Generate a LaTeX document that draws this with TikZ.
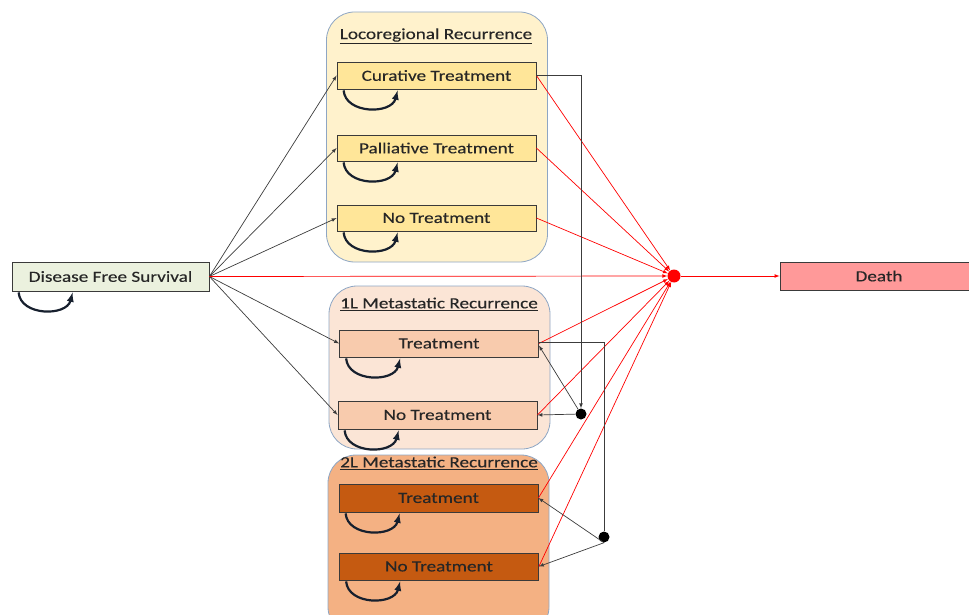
\documentclass[tikz,border=0pt]{standalone}
\usepackage{fontspec}
\setmainfont{Carlito}
\newfontfamily\boxfont{Carlito}[FakeBold=0.15]
\newcommand{\wtext}[1]{\scalebox{1.24}[1]{#1}}
\definecolor{txt}{HTML}{262626}
\definecolor{boxline}{HTML}{3A3A3A}
\definecolor{grpline}{HTML}{8EA6C4}
\definecolor{dfsfill}{HTML}{EBF1DE}
\definecolor{lrgrp}{HTML}{FFF2CC}
\definecolor{lrbox}{HTML}{FFE699}
\definecolor{mfgrp}{HTML}{FBE5D6}
\definecolor{mfbox}{HTML}{F8CBAD}
\definecolor{msgrp}{HTML}{F4B183}
\definecolor{msbox}{HTML}{C55A11}
\definecolor{deathfill}{HTML}{FF9999}
\definecolor{loopc}{HTML}{17202E}
\definecolor{blk}{HTML}{3C3C3C}
\tikzset{
 state/.style={draw=boxline, line width=0.8pt, minimum width=199pt, minimum height=27pt, inner sep=0pt, text=txt, font=\boxfont\fontsize{15.5}{18}\selectfont},
 group/.style={draw=grpline, line width=0.8pt, rounded corners=28pt, minimum width=221pt},
 grptitle/.style={text=txt, inner sep=0pt, font=\boxfont\fontsize{15.5}{18}\selectfont},
 flow/.style={->, draw=blk, line width=0.7pt},
 dflow/.style={->, draw=red, line width=0.7pt},
 selfloop/.style={->, draw=loopc, line width=2.2pt},
 junction/.style={circle, fill=black, inner sep=0pt, minimum size=11pt},
}
\begin{document}
\begin{tikzpicture}[>=latex, x=1pt, y=-1pt]
 \useasboundingbox (0,0) rectangle (969,615);
 \node[group, fill=lrgrp, minimum height=250pt] (lrgroup) at (437,137) {};
 \node[group, fill=mfgrp, minimum height=163pt] (mfgroup) at (439.5,367.5) {};
 \node[group, fill=msgrp, minimum height=180pt] (msgroup) at (438.5,545) {};
 \node[grptitle] (lrtitle) at (436,36) {\wtext{\underline{Locoregional Recurrence}}};
 \node[grptitle] (mftitle) at (439,304) {\wtext{\underline{1L Metastatic Recurrence}}};
 \node[grptitle] (mstitle) at (439,463) {\wtext{\underline{2L Metastatic Recurrence}}};
 \node[state, fill=dfsfill, minimum width=197pt, minimum height=29pt] (dfs) at (110.5,276.5) {\wtext{Disease Free Survival}};
 \node[state, fill=lrbox] (cur) at (436.5,75.5) {\wtext{Curative Treatment}};
 \node[state, fill=lrbox, minimum height=26pt] (pal) at (436.5,148) {\wtext{Palliative Treatment}};
 \node[state, fill=lrbox, minimum height=26pt] (lrnone) at (436.5,218) {\wtext{No Treatment}};
 \node[state, fill=mfbox] (mftreat) at (439,343.5) {\wtext{Treatment}};
 \node[state, fill=mfbox, minimum height=28pt] (mfnone) at (437.5,415) {\wtext{No Treatment}};
 \node[state, fill=msbox, minimum height=28pt] (mstreat) at (438.5,498) {\wtext{Treatment}};
 \node[state, fill=msbox] (msnone) at (439,566.5) {\wtext{No Treatment}};
 \node[state, fill=deathfill, minimum width=220pt, minimum height=28pt] (death) at (890,276) {\hspace*{-22pt}\wtext{Death}};
 \node[circle, fill=red, inner sep=0pt, minimum size=13pt] (rdot) at (674,276) {};
 \node[junction] (jmf) at (581,414) {};
 \node[junction] (jms) at (604,537) {};
 \foreach \s in {dfs,cur,pal,lrnone,mftreat,mfnone,mstreat,msnone}
  \draw[selfloop] ([xshift=7pt,yshift=-1pt]\s.south west) .. controls +(2pt,-24pt) and +(-6pt,-24pt) .. ([xshift=61pt,yshift=-1pt]\s.south west);
 \foreach \s in {cur,pal,lrnone,mftreat,mfnone}
  \draw[flow] (dfs.east) -- (\s.west);
 \foreach \s in {dfs,cur,pal,lrnone,mftreat,mfnone,mstreat,msnone}
  \draw[dflow] (\s.east) -- (rdot);
 \draw[dflow] (rdot) -- (death.west);
 \draw[flow] (cur.east) -| (jmf);
 \draw[draw=blk, line width=0.7pt] ([yshift=1pt]mftreat.east) -| (jms);
 \draw[flow] (jmf) -- ([yshift=-2pt]mftreat.east);
 \draw[flow] (jmf) -- (mfnone.east);
 \draw[flow] (jms.south) -- (mstreat.east);
 \draw[flow] (jms.south) -- (msnone.east);
\end{tikzpicture}
\end{document}
